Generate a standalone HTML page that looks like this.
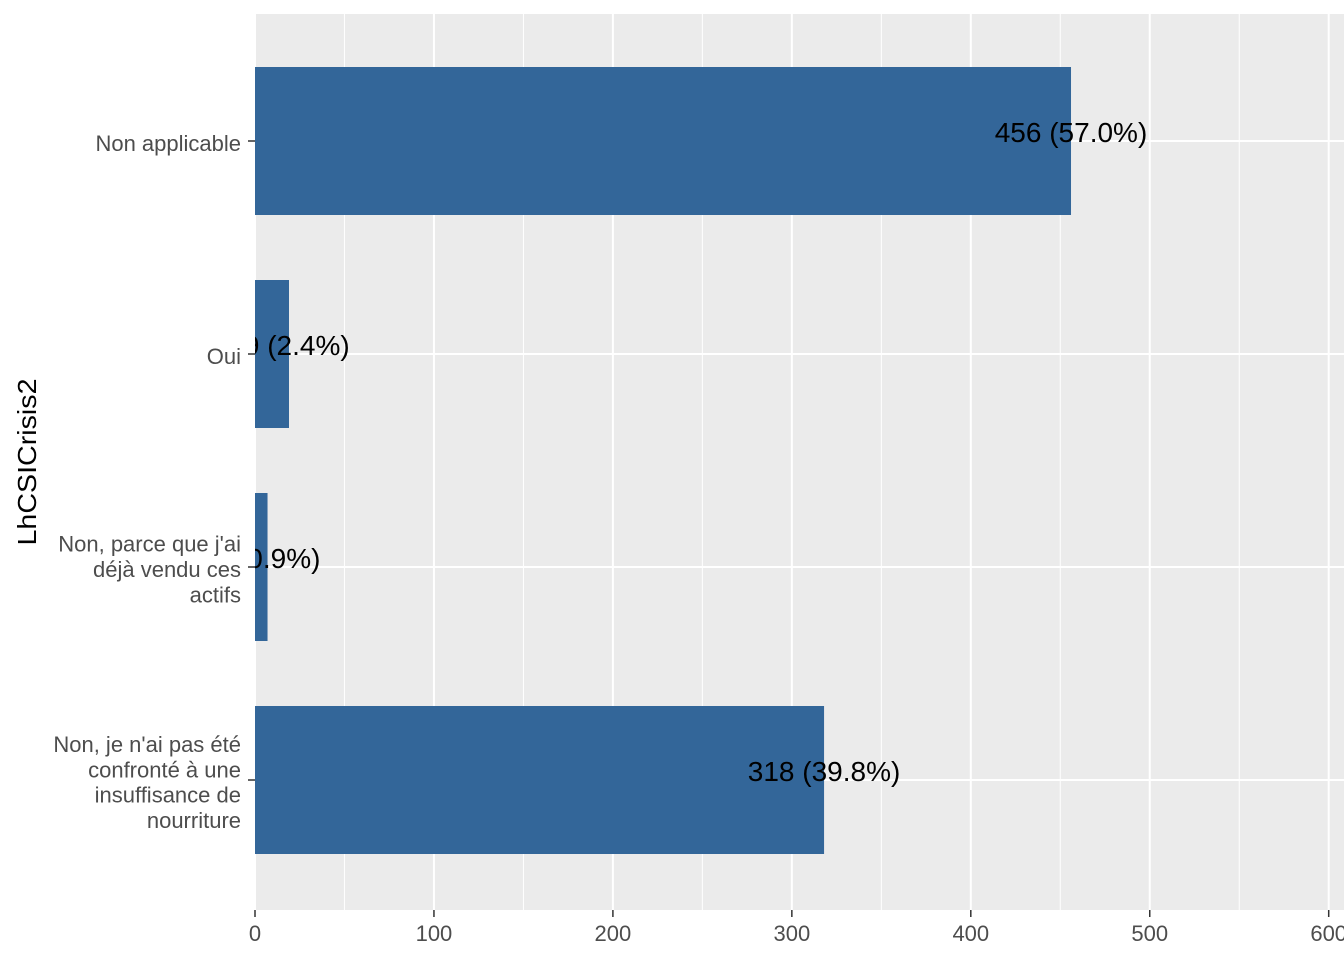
<!DOCTYPE html>
<html><head><meta charset="utf-8"><style>
body{margin:0;background:#fff}
svg{display:block;font-family:"Liberation Sans",Arial,sans-serif}
</style></head><body>
<svg id="chart" width="1344" height="960">
<defs><clipPath id="pc"><rect x="255" y="14" width="1089" height="896"/></clipPath></defs>
<rect x="255" y="14" width="1089" height="896" fill="#EBEBEB"/>
<g id="grid"></g>
<g id="bars" clip-path="url(#pc)"></g>
<g id="axes"></g>
<text x="36" y="462" transform="rotate(-90 36 462)" text-anchor="middle" font-size="26" textLength="167" lengthAdjust="spacingAndGlyphs" fill="#000">LhCSICrisis2</text>
</svg>
<script>
const categories = [["Non applicable"],["Oui"],["Non, parce que j'ai","déjà vendu ces","actifs"],["Non, je n'ai pas été","confronté à une","insuffisance de","nourriture"]];
const counts = [456, 19, 7, 318];
const percents = ["57.0%","2.4%","0.9%","39.8%"];
const xTicks = [0,100,200,300,400,500,600];
const NS="http://www.w3.org/2000/svg";
const x0=255, pxPer=1.7895, yTop=141, step=213, bh=148;
const xs=v=>x0+v*pxPer;
const ys=i=>yTop+i*step;
function mk(t,a,p){const e=document.createElementNS(NS,t);for(const k in a)e.setAttribute(k,a[k]);p.appendChild(e);return e;}
const grid=document.getElementById('grid'),bars=document.getElementById('bars'),axes=document.getElementById('axes');
for(let i=0;i<xTicks.length-1;i++){
  const m=mk('line',{x1:xs((xTicks[i]+xTicks[i+1])/2),x2:xs((xTicks[i]+xTicks[i+1])/2),y1:14,y2:910,stroke:'#fff','stroke-width':1},grid);
  
  
}
xTicks.forEach(t=>{
  const g=mk('line',{x1:xs(t),x2:xs(t),y1:14,y2:910,stroke:'#fff','stroke-width':2},grid);
  
  
  const tk=mk('line',{x1:xs(t),x2:xs(t),y1:910,y2:917,stroke:'#333','stroke-width':1.5},axes);
  
  
  const l=mk('text',{x:xs(t),y:941,'text-anchor':'middle','font-size':22,fill:'#4D4D4D'},axes);
  l.textContent=t;
  
  
});
categories.forEach((c,i)=>{
  const y=ys(i);
  const g=mk('line',{x1:255,x2:1344,y1:y,y2:y,stroke:'#fff','stroke-width':2},grid);
  
  
  const r=mk('rect',{x:x0,y:y-bh/2,width:xs(counts[i])-x0,height:bh,fill:'#336699'},bars);
  
  
  const lab=mk('text',{x:xs(counts[i]),y:y+1,'text-anchor':'middle','font-size':28,fill:'#000'},bars);
  lab.textContent=counts[i]+' ('+percents[i]+')';
  
  
  const tk=mk('line',{x1:248,x2:255,y1:y,y2:y,stroke:'#333','stroke-width':1.5},axes);
  
  
  const n=c.length, lh=25.3, startY=y-(n-1)*lh/2+10;
  const t=mk('text',{'text-anchor':'end','font-size':22,fill:'#4D4D4D'},axes);
  
  
  c.forEach((s,k)=>{const ts=mk('tspan',{x:241,y:startY+k*lh},t);ts.textContent=s;});
});
</script>
</body></html>
